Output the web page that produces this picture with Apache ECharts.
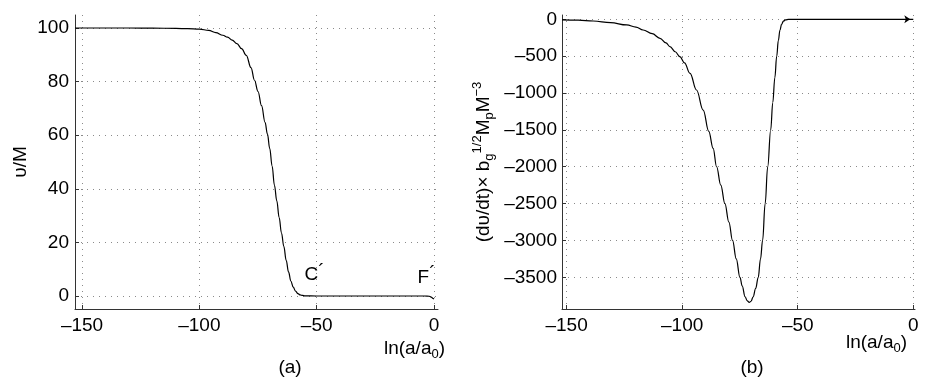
<!DOCTYPE html>
<html>
<head>
<meta charset="utf-8">
<script src="https://cdn.jsdelivr.net/npm/echarts@6/dist/echarts.min.js"></script>
<style>
html,body{margin:0;padding:0;background:#fff;}
#c{width:926px;height:382px;}
</style>
</head>
<body>
<div id="c"></div>
<script>
// ---- data ----
const xTicks = [-150, -100, -50, 0];
const aYTicks = [0, 20, 40, 60, 80, 100];
const bYTicks = [0, -500, -1000, -1500, -2000, -2500, -3000, -3500];

// panel (a): upsilon/M vs ln(a/a0)
const aX = [-153, -140, -130, -120, -110, -105, -100, -96, -93, -90, -88, -86, -84, -82, -80, -78, -76.5, -75, -73.5, -72, -71, -70, -69, -68, -67, -66, -65, -64, -63, -62, -61, -60, -59, -58, -57, -56, -55, -50, -40, -30, -20, -10, -4, -2, -1, -0.5, 0];
const aY = [100, 100, 100, 99.95, 99.85, 99.75, 99.6, 99.1, 98.3, 97.3, 96.6, 95.5, 94.2, 92.3, 89.8, 85.2, 80.5, 76.3, 71, 64.8, 60.5, 55, 48.5, 41.3, 35.5, 29.3, 23.5, 18.5, 13.3, 9, 5.6, 3.3, 1.8, 0.9, 0.4, 0.2, 0.05, 0, 0, 0, 0, 0, 0, -0.1, -0.5, -0.9, -1.1];

// panel (b): d(upsilon)/dt scaled
const bX = [-152, -145, -138.5, -131, -124, -120, -116.9, -113, -109.6, -107, -105.3, -103, -101, -99, -96.6, -93.8, -90.9, -88.5, -86.6, -85.1, -83.3, -81.5, -79.8, -78.2, -76.6, -75, -74, -72.8, -71.8, -71, -70.2, -69.3, -68.2, -67.1, -66.1, -65.2, -64.1, -63, -61.7, -60.8, -59.9, -59.1, -58.4, -57.7, -57, -56.2, -55.3, -54, -52, -40, -30, -20, -10, 0];
const bY = [-8, -12, -23, -45, -77, -105, -145, -195, -258, -320, -371, -440, -507, -590, -733, -959, -1231, -1520, -1750, -2000, -2250, -2500, -2750, -3000, -3250, -3500, -3620, -3764, -3820, -3840, -3825, -3764, -3650, -3500, -3250, -3000, -2500, -2000, -1502, -1130, -790, -500, -290, -150, -70, -25, -7, -1, 0, 0, 0, 0, 0, 0];

// annotations
const notes = [{ text: 'C', x: -50.9, y: 7.8 }, { text: 'F', x: -3.2, y: 6.9 }];

// ---- chart ----
const FONT = 'Liberation Sans, Arial, Helvetica, sans-serif';
const FS = 19;
const fmt = v => String(v).replace('-', '\u2013');
const gridLine = { show: true, lineStyle: { color: '#8a8a8a', width: 1, type: [1, 5] } };
const axLine = { show: true, onZero: false, lineStyle: { color: '#333', width: 1 } };
const lbl = (vals) => ({ fontFamily: FONT, fontSize: FS, color: '#000', formatter: fmt, customValues: vals });
const tick = (vals) => ({ show: true, inside: true, length: 4, lineStyle: { color: '#333' }, customValues: vals });
const subRich = {
  s: { fontFamily: FONT, fontSize: 13, color: '#000', padding: [12, 0, 0, 0] },
  u: { fontFamily: FONT, fontSize: 13, color: '#000', padding: [0, 0, 12, 0] },
  p: { fontFamily: FONT, fontSize: 19, color: '#000', padding: [0, 0, 7, 0] }
};

const aData = aX.map((x, i) => [x, aY[i]]);
const bData = bX.map((x, i) => [x, bY[i]]);
bData[bData.length - 1] = { value: [bX[bX.length - 1], bY[bY.length - 1]], symbol: 'arrow', symbolSize: [6, 6], symbolRotate: -90, symbolOffset: [-3, 0], itemStyle: { color: '#000' } };

const chart = echarts.init(document.getElementById('c'), null, { renderer: 'canvas' });
chart.setOption({
  animation: false,
  backgroundColor: '#fff',
  grid: [
    { left: 75, top: 15, width: 363, height: 294, outerBoundsMode: 'none' },
    { left: 562, top: 15, width: 353, height: 294, outerBoundsMode: 'none' }
  ],
  xAxis: [
    {
      type: 'value', gridIndex: 0, min: -153, max: 1.7,
      axisLine: axLine, axisTick: tick(xTicks), axisLabel: Object.assign(lbl(xTicks), { margin: 7 }),
      splitLine: gridLine,
      name: 'ln(a/a{s|0})', nameLocation: 'end', nameGap: 7, nameMoveOverlap: false,
      nameTextStyle: { fontFamily: FONT, fontSize: FS, color: '#000', align: 'right', verticalAlign: 'top', padding: [27, 0, 0, 0], rich: subRich }
    },
    {
      type: 'value', gridIndex: 1, min: -152, max: 0.74,
      axisLine: axLine, axisTick: tick(xTicks), axisLabel: Object.assign(lbl(xTicks), { margin: 7 }),
      splitLine: gridLine,
      name: 'ln(a/a{s|0})', nameLocation: 'end', nameGap: -8, nameMoveOverlap: false,
      nameTextStyle: { fontFamily: FONT, fontSize: FS, color: '#000', align: 'right', verticalAlign: 'top', padding: [21, 0, 0, 0], rich: subRich }
    }
  ],
  yAxis: [
    {
      type: 'value', gridIndex: 0, min: -4.85, max: 104.85,
      axisLine: axLine, axisTick: tick(aYTicks), axisLabel: Object.assign(lbl(aYTicks), { margin: 6 }),
      splitLine: gridLine,
      name: '\u03C5/M', nameLocation: 'middle', nameRotate: 90, nameGap: 45, nameMoveOverlap: false,
      nameTextStyle: { fontFamily: FONT, fontSize: FS, color: '#000' }
    },
    {
      type: 'value', gridIndex: 1, min: -3930, max: 58.3,
      axisLine: axLine, axisTick: tick(bYTicks), axisLabel: Object.assign(lbl(bYTicks), { margin: 5 }),
      splitLine: gridLine,
      name: '(d\u03C5/dt)\u00D7 b{s|g}{u|1/2}M{s|p}M{u|\u22123}', nameLocation: 'middle', nameRotate: 90, nameGap: 66, nameMoveOverlap: false,
      nameTextStyle: { fontFamily: FONT, fontSize: FS, color: '#000', rich: subRich }
    }
  ],
  series: [
    {
      type: 'line', xAxisIndex: 0, yAxisIndex: 0, data: aData, symbol: 'none', smooth: 0.4, smoothMonotone: 'x',
      lineStyle: { color: '#000', width: 1.2 }, silent: true,
      markPoint: {
        symbol: 'circle', symbolSize: 0, silent: true,
        label: { show: true, position: 'inside', fontFamily: FONT, fontSize: FS, color: '#000', formatter: p => p.name + '{p|\u00B4}', rich: subRich },
        data: notes.map(n => ({ name: n.text, coord: [n.x, n.y] }))
      }
    },
    {
      type: 'line', xAxisIndex: 1, yAxisIndex: 1, data: bData, symbol: 'none', showSymbol: true, smooth: 0.4, smoothMonotone: 'x',
      lineStyle: { color: '#000', width: 1.2 }, silent: true
    }
  ],
  graphic: [
    { type: 'text', x: 290, y: 368, style: { text: '(a)', fontFamily: FONT, fontSize: FS, fill: '#000', align: 'center', verticalAlign: 'middle' } },
    { type: 'text', x: 752, y: 368, style: { text: '(b)', fontFamily: FONT, fontSize: FS, fill: '#000', align: 'center', verticalAlign: 'middle' } }
  ]
});
</script>
</body>
</html>
